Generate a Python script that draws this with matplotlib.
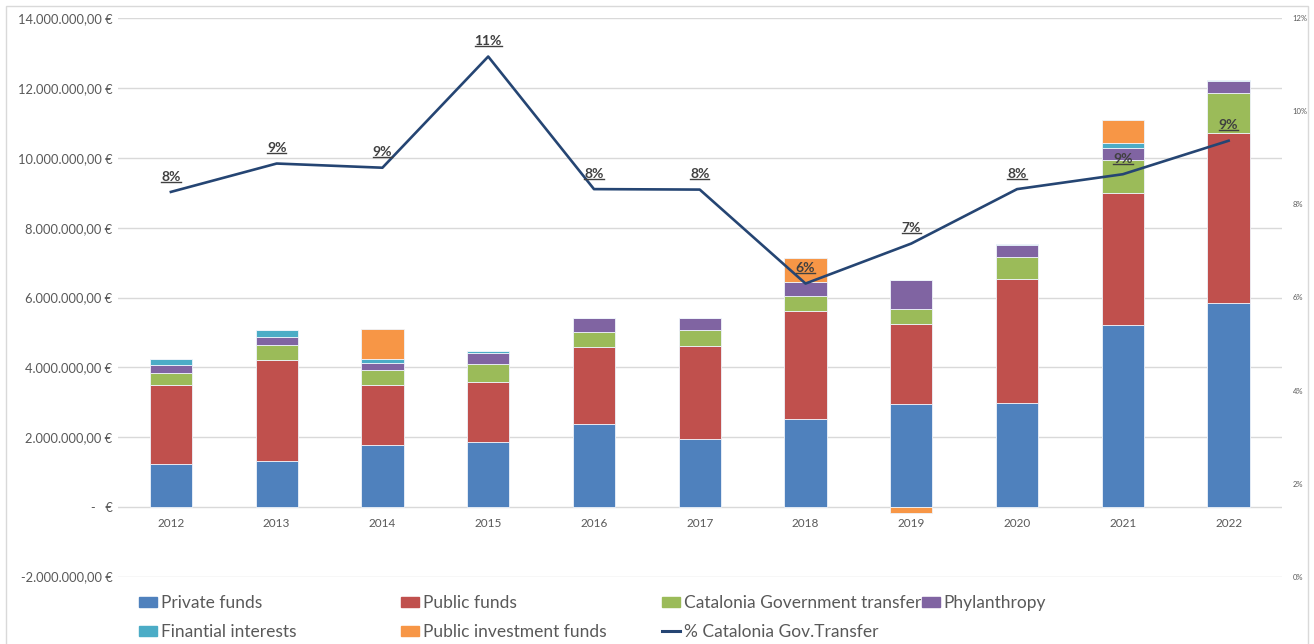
import matplotlib
matplotlib.use("Agg")
import matplotlib.pyplot as plt
import matplotlib.patches as mpatches
from matplotlib.lines import Line2D
from matplotlib.transforms import IdentityTransform
from matplotlib.ticker import FuncFormatter
import numpy as np

plt.rcParams["font.family"] = ["Lato", "DejaVu Sans"]

# ── Data (euros) ──────────────────────────────────────────────────────────────
years = ["2012", "2013", "2014", "2015", "2016", "2017",
         "2018", "2019", "2020", "2021", "2022"]

private_funds   = [1.23e6, 1.32e6, 1.77e6, 1.86e6, 2.37e6, 1.94e6, 2.53e6, 2.95e6, 2.97e6, 5.21e6, 5.85e6]
public_funds    = [2.25e6, 2.89e6, 1.72e6, 1.73e6, 2.20e6, 2.67e6, 3.07e6, 2.28e6, 3.57e6, 3.78e6, 4.86e6]
catalonia_gov   = [0.35e6, 0.44e6, 0.44e6, 0.49e6, 0.45e6, 0.45e6, 0.44e6, 0.44e6, 0.62e6, 0.96e6, 1.15e6]
phylanthropy    = [0.23e6, 0.21e6, 0.19e6, 0.32e6, 0.38e6, 0.35e6, 0.39e6, 0.82e6, 0.35e6, 0.33e6, 0.35e6]
fin_interests   = [0.17e6, 0.20e6, 0.11e6, 0.07e6, 0.02e6, 0.01e6, 0.01e6, 0.00e6, 0.02e6, 0.15e6, 0.01e6]
public_invest   = [0.00e6, 0.00e6, 0.88e6, 0.00e6, 0.00e6, 0.00e6, 0.70e6, -0.17e6, 0.00e6, 0.65e6, 0.00e6]

pct_catalonia   = [0.0827, 0.0888, 0.0879, 0.1118, 0.0833, 0.0832,
                   0.0630, 0.0716, 0.0833, 0.0865, 0.0937]
pct_labels      = ["8%", "9%", "9%", "11%", "8%", "8%", "6%", "7%", "8%", "9%", "9%"]

series = [
    ("Private funds",                 private_funds, "#4F81BD"),
    ("Public funds",                  public_funds,  "#C0504D"),
    ("Catalonia Government transfer", catalonia_gov, "#9BBB59"),
    ("Phylanthropy",                  phylanthropy,  "#8064A2"),
    ("Finantial interests",           fin_interests, "#4BACC6"),
    ("Public investment funds",       public_invest, "#F79646"),
]
LINE_COLOR = "#254573"
TXT = "#595959"

# ── Figure ────────────────────────────────────────────────────────────────────
W, H = 1314, 644
fig = plt.figure(figsize=(W / 100, H / 100), dpi=100)
ax = fig.add_axes([118 / W, 1 - 576.6 / H, (1281.5 - 118) / W, (576.6 - 18.4) / H])

x = np.arange(len(years))
pos_bottom = np.zeros(len(years))
neg_bottom = np.zeros(len(years))
handles = {}
for name, vals, col in series:
    v = np.array(vals)
    bottom = np.where(v >= 0, pos_bottom, neg_bottom)
    ax.bar(x, v, 0.4, bottom=bottom, color=col, edgecolor="#eef3fa",
           linewidth=0.6, zorder=2)
    pos_bottom += np.where(v >= 0, v, 0)
    neg_bottom += np.where(v < 0, v, 0)
    handles[name] = mpatches.Patch(color=col)

ax.set_xlim(-0.5, len(years) - 0.5)
ax.set_ylim(-2e6, 14e6)
ax.set_yticks(np.arange(-2e6, 14.1e6, 2e6))
ax.grid(axis="y", color="#d9d9d9", linewidth=1.0)
ax.set_axisbelow(True)


def euro_fmt(v, _):
    if abs(v) < 1:
        return "-   €"
    s = f"{v:,.2f}".replace(",", "X").replace(".", ",").replace("X", ".")
    return s + " €"


ax.yaxis.set_major_formatter(FuncFormatter(euro_fmt))
ax.tick_params(axis="y", length=0, pad=4, labelsize=9.3, labelcolor=TXT)
ax.set_xticks(x)
ax.set_xticklabels(years)
ax.spines["bottom"].set_position(("data", 0))
for sp in ax.spines.values():
    sp.set_color("none")
ax.tick_params(axis="x", length=0, pad=8, labelsize=8.5, labelcolor=TXT)

# secondary axis – percentage line
ax2 = ax.twinx()
ax2.set_ylim(0, 0.12)
ax2.set_yticks(np.arange(0, 0.121, 0.02))
ax2.yaxis.set_major_formatter(FuncFormatter(lambda v, _: f"{v * 100:.0f}%"))
ax2.tick_params(axis="y", length=0, pad=8, labelsize=5.5, labelcolor=TXT)
for sp in ax2.spines.values():
    sp.set_color("none")
ax2.plot(x, pct_catalonia, color=LINE_COLOR, linewidth=1.9, zorder=3)

texts = []
for xi, yi, lab in zip(x, pct_catalonia, pct_labels):
    t = ax2.annotate(lab, (xi, yi), xytext=(0, 11), textcoords="offset points",
                     ha="center", va="center", fontsize=10, fontweight="bold",
                     color="#404040", zorder=4)
    texts.append(t)

# ── Legend (four columns placed like the original) ───────────────────────────
line_handle = Line2D([], [], color=LINE_COLOR, linewidth=2.2)
columns = [
    (139, [("Private funds", handles["Private funds"]),
           ("Finantial interests", handles["Finantial interests"])]),
    (401, [("Public funds", handles["Public funds"]),
           ("Public investment funds", handles["Public investment funds"])]),
    (662, [("Catalonia Government transfer", handles["Catalonia Government transfer"]),
           ("% Catalonia Gov.Transfer", line_handle)]),
    (922, [("Phylanthropy", handles["Phylanthropy"])]),
]
for xpx, items in columns:
    fig.legend([h for _, h in items], [l for l, _ in items],
               loc="upper left", bbox_to_anchor=(xpx / W, 1 - 595 / H),
               frameon=False, borderpad=0, borderaxespad=0,
               fontsize=12.5, handlelength=1.05, handleheight=0.5,
               handletextpad=0.2, labelspacing=0.75, labelcolor=TXT)

# outer chart border
fig.add_artist(mpatches.Rectangle((6 / W, -0.01), (1308 - 6) / W, 1.0 - 6 / H + 0.01,
                                  transform=fig.transFigure, fill=False,
                                  edgecolor="#d9d9d9", linewidth=1.0))

# underline the data labels
fig.canvas.draw()
renderer = fig.canvas.get_renderer()
for t in texts:
    bb = t.get_window_extent(renderer)
    yl = bb.y0 + 1.0
    fig.add_artist(Line2D([bb.x0, bb.x1], [yl, yl], transform=IdentityTransform(),
                          color="#404040", linewidth=1.0))

fig.savefig("out.png", dpi=100)
